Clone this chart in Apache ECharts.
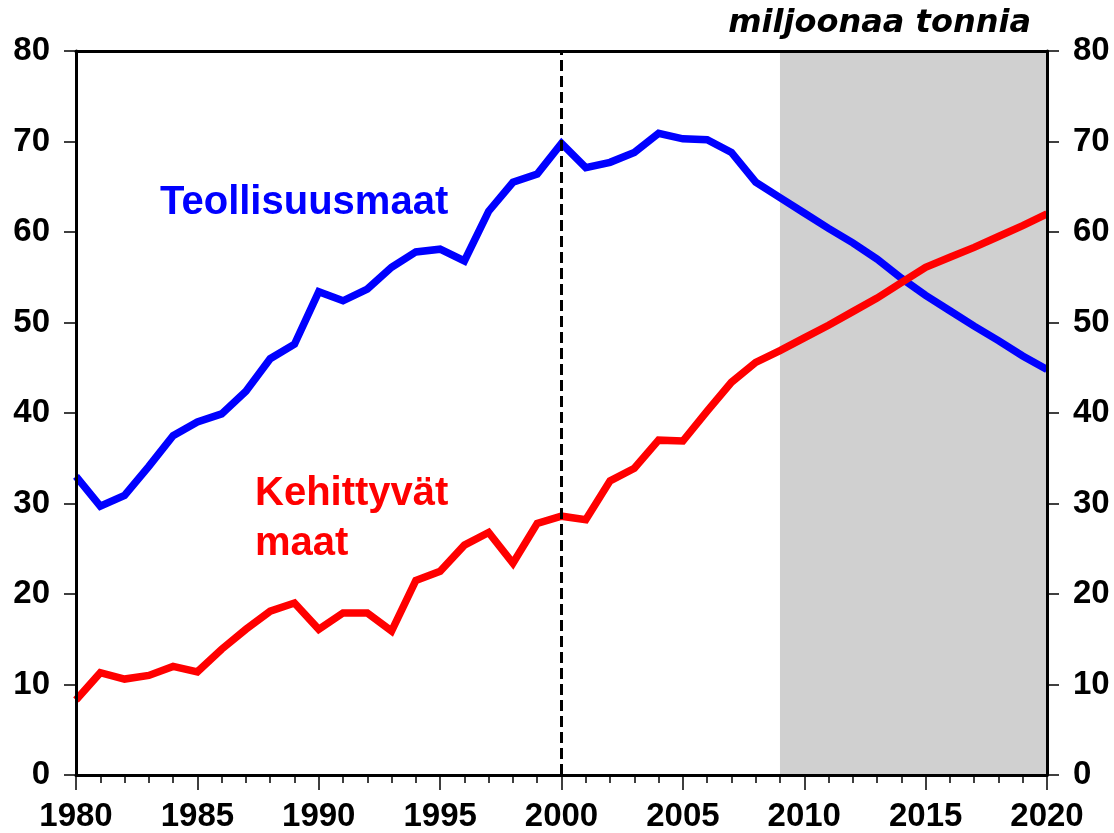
<!DOCTYPE html>
<html>
<head>
<meta charset="utf-8">
<script src="https://cdn.jsdelivr.net/npm/echarts@6/dist/echarts.min.js"></script>
<style>
html,body{margin:0;padding:0;background:#fff;}
#chart{width:1114px;height:833px;}
</style>
</head>
<body>
<div id="chart"></div>
<script>
const years = [1980,1981,1982,1983,1984,1985,1986,1987,1988,1989,1990,1991,1992,1993,1994,1995,1996,1997,1998,1999,2000,2001,2002,2003,2004,2005,2006,2007,2008,2009,2010,2011,2012,2013,2014,2015,2016,2017,2018,2019,2020];
const teollisuusmaat = [33.0,29.7,30.9,34.1,37.5,39.0,39.9,42.4,46.0,47.6,53.4,52.4,53.7,56.1,57.8,58.1,56.8,62.3,65.5,66.4,69.8,67.1,67.7,68.8,70.9,70.3,70.2,68.8,65.5,63.8,62.1,60.4,58.8,57.0,54.9,53.0,51.3,49.6,48.0,46.3,44.8];
const kehittyvat = [8.3,11.3,10.6,11.0,12.0,11.4,13.9,16.1,18.1,19.0,16.1,17.9,17.9,15.9,21.5,22.5,25.4,26.8,23.4,27.8,28.6,28.2,32.5,33.9,37.0,36.9,40.2,43.4,45.6,46.9,48.3,49.7,51.2,52.7,54.4,56.1,57.2,58.3,59.5,60.7,62.0];
const shadeStart = 2009;
const shadeEnd = 2020;
const dashYear = 2000;
const yTicks = [0,10,20,30,40,50,60,70,80];
const unitLabel = 'miljoonaa tonnia';
const seriesNames = ['Teollisuusmaat', 'Kehittyvät', 'maat'];

const chart = echarts.init(document.getElementById('chart'));
const pair = arr => years.map((y,i)=>[y, arr[i]]);
const labelFont = {fontFamily:'Liberation Sans, Arial, sans-serif', fontWeight:'bold', fontSize:33, color:'#000'};

const yAxisBase = (pos) => ({
  type:'value', position:pos, min:yTicks[0], max:yTicks[yTicks.length-1], interval:10,
  axisLine:{show:true, onZero:false, lineStyle:{color:'#000', width:3}},
  axisTick:{show:true, inside:false, length:12, lineStyle:{color:'#000', width:1.5}},
  axisLabel:Object.assign({margin:26}, labelFont),
  splitLine:{show:false}, z:10
});

chart.setOption({
  animation:false,
  backgroundColor:'#fff',
  grid:{left:76, right:67, top:51, bottom:55, containLabel:false},
  xAxis:[{
    type:'value', position:'bottom', min:1980, max:2020, interval:5,
    axisLine:{show:true, onZero:false, lineStyle:{color:'#000', width:3}},
    axisTick:{show:true, inside:false, length:15, lineStyle:{color:'#000', width:1.5}},
    minorTick:{show:true, splitNumber:5, length:8, lineStyle:{color:'#000', width:1.5}},
    axisLabel:Object.assign({margin:25, formatter:v=>String(v)}, labelFont),
    splitLine:{show:false}, minorSplitLine:{show:false}, z:10
  },{
    type:'value', position:'top', min:1980, max:2020, interval:5,
    axisLine:{show:true, onZero:false, lineStyle:{color:'#000', width:3}},
    axisTick:{show:false}, axisLabel:{show:false}, splitLine:{show:false}, z:10
  }],
  yAxis:[yAxisBase('left'), yAxisBase('right')],
  series:[
    {
      type:'line', name:'shade', data:[], z:1, silent:true,
      markArea:{silent:true, itemStyle:{color:'#d0d0d0'}, data:[[{xAxis:shadeStart},{xAxis:shadeEnd}]]},
      markLine:{silent:true, symbol:['none','none'], label:{show:false},
        lineStyle:{color:'#000', width:3, type:[11,5]},
        data:[{xAxis:dashYear}]}
    },
    {
      type:'line', name:seriesNames[0], data:pair(teollisuusmaat), showSymbol:false, symbol:'none',
      lineStyle:{color:'#0000ff', width:7.5, join:'miter'}, z:3
    },
    {
      type:'line', name:'Kehittyvät maat', data:pair(kehittyvat), showSymbol:false, symbol:'none',
      lineStyle:{color:'#ff0000', width:7.5, join:'miter'}, z:4
    }
  ],
  graphic:[
    {type:'text', z:20, style:{text:seriesNames[0], x:160, y:203, fill:'#0000ff', font:'bold 40px "Liberation Sans", Arial, sans-serif', textAlign:'left', textVerticalAlign:'middle'}},
    {type:'text', z:20, style:{text:seriesNames[1], x:255, y:494, fill:'#ff0000', font:'bold 40px "Liberation Sans", Arial, sans-serif', textAlign:'left', textVerticalAlign:'middle'}},
    {type:'text', z:20, style:{text:seriesNames[2], x:255, y:544, fill:'#ff0000', font:'bold 40px "Liberation Sans", Arial, sans-serif', textAlign:'left', textVerticalAlign:'middle'}},
    {type:'text', z:20, style:{text:unitLabel, x:1031, y:24, fill:'#000', font:'italic bold 32px "DejaVu Sans", sans-serif', textAlign:'right', textVerticalAlign:'middle'}}
  ]
});
</script>
</body>
</html>
